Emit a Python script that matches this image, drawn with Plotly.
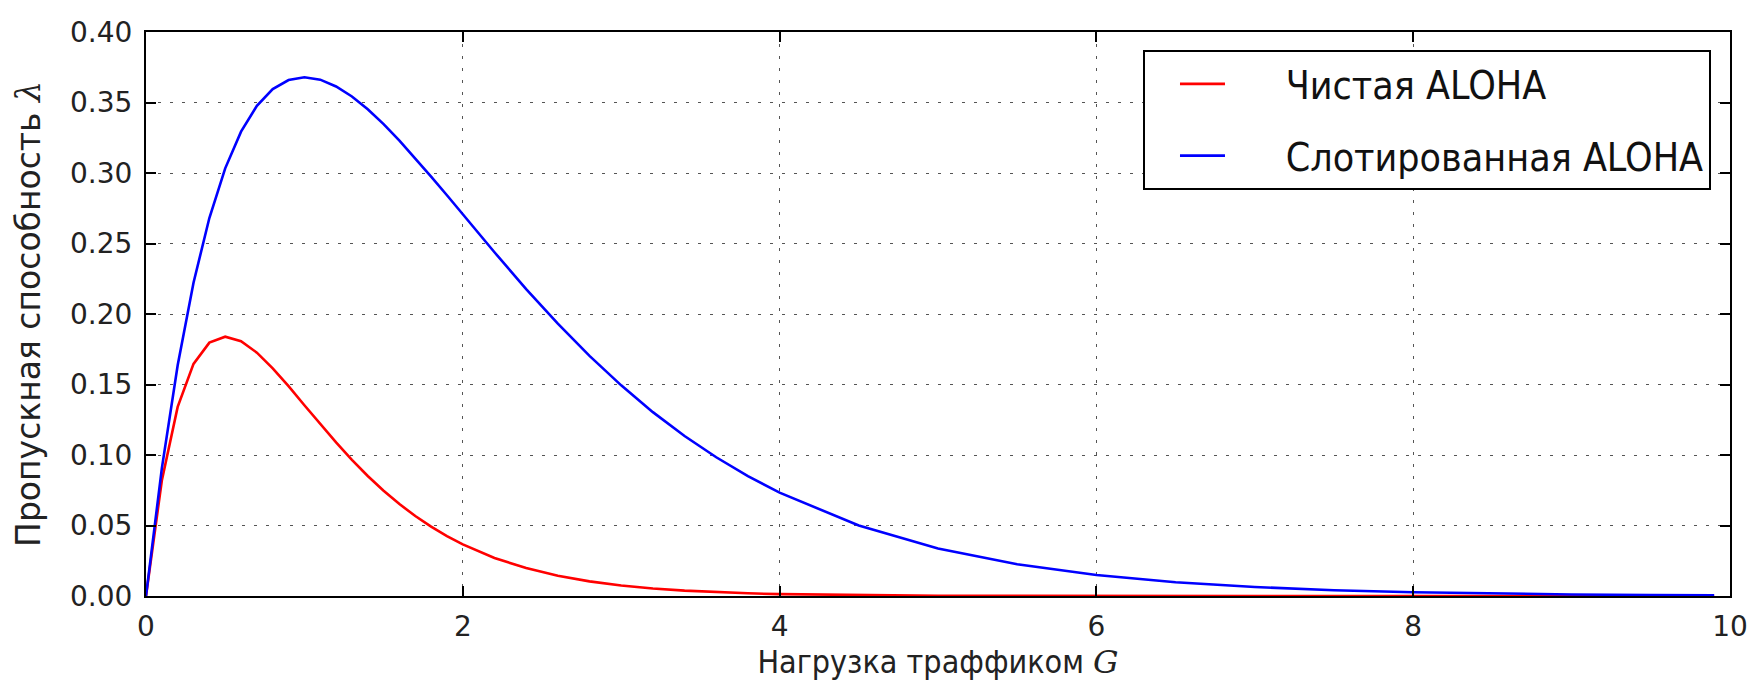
import plotly.graph_objects as go

# Traffic load G
G = [0.0, 0.1, 0.2, 0.3, 0.4, 0.5, 0.6, 0.7, 0.8, 0.9, 1.0, 1.1, 1.2, 1.3, 1.4,
     1.5, 1.6, 1.7, 1.8, 1.9, 2.0, 2.2, 2.4, 2.6, 2.8, 3.0, 3.2, 3.4, 3.6, 3.8,
     4.0, 4.5, 5.0, 5.5, 6.0, 6.5, 7.0, 7.5, 8.0, 8.5, 9.0, 9.5, 9.9]

# Pure ALOHA throughput
pure = [0.0, 0.0819, 0.1341, 0.1646, 0.1797, 0.1839, 0.1807, 0.1726, 0.1615,
        0.1488, 0.1353, 0.1219, 0.1089, 0.0966, 0.0851, 0.0747, 0.0652, 0.0567,
        0.0492, 0.0425, 0.0366, 0.0270, 0.0198, 0.0143, 0.0104, 0.0074, 0.0053,
        0.0038, 0.0027, 0.0019, 0.0013, 0.0006, 0.0002, 0.0001, 0.0, 0.0, 0.0,
        0.0, 0.0, 0.0, 0.0, 0.0, 0.0]

# Slotted ALOHA throughput
slotted = [0.0, 0.0905, 0.1637, 0.2222, 0.2681, 0.3033, 0.3293, 0.3476, 0.3595,
           0.3659, 0.3679, 0.3662, 0.3614, 0.3543, 0.3452, 0.3347, 0.3230, 0.3106,
           0.2975, 0.2842, 0.2707, 0.2438, 0.2177, 0.1931, 0.1703, 0.1494, 0.1304,
           0.1135, 0.0984, 0.0850, 0.0733, 0.0500, 0.0337, 0.0225, 0.0149, 0.0098,
           0.0064, 0.0041, 0.0027, 0.0017, 0.0011, 0.0007, 0.0005]

names = ["Чистая ALOHA", "Слотированная ALOHA"]

x_ticks = [0, 2, 4, 6, 8, 10]
y_ticks = [0.00, 0.05, 0.10, 0.15, 0.20, 0.25, 0.30, 0.35, 0.40]
y_tick_text = ["0.00", "0.05", "0.10", "0.15", "0.20", "0.25", "0.30", "0.35", "0.40"]

NARROW = "DejaVu Sans Condensed, Liberation Sans Narrow, DejaVu Sans, sans-serif"
PAD = "\u00a0" * 5

fig = go.Figure()
fig.add_trace(go.Scatter(x=G, y=pure, mode="lines", name=PAD + names[0], legendgroup="a",
                         line=dict(color="#ff0000", width=2.6)))
fig.add_trace(go.Scatter(x=G, y=slotted, mode="lines", name=PAD + names[1], legendgroup="b",
                         line=dict(color="#0000ff", width=2.6)))

axis_common = dict(
    showline=True, linecolor="black", linewidth=2, mirror="ticks",
    ticks="inside", ticklen=10, tickwidth=1.5, tickcolor="black",
    showgrid=True, gridcolor="#555555", gridwidth=1, griddash="3px,9px",
    zeroline=False, automargin=False,
    tickfont=dict(family="DejaVu Sans, sans-serif", size=28, color="#222222"),
)

fig.update_layout(
    width=1748, height=685,
    margin=dict(l=146, r=18, t=32, b=89),
    paper_bgcolor="white", plot_bgcolor="white",
    showlegend=True,
    legend=dict(
        x=0.988, y=0.968, xanchor="right", yanchor="top",
        bordercolor="black", borderwidth=2, bgcolor="white",
        font=dict(family=NARROW, size=39, color="#111111"),
        tracegroupgap=18, itemwidth=45, indentation=30,
    ),
)
fig.update_xaxes(
    range=[0, 10], tickvals=x_ticks, ticktext=[str(v) for v in x_ticks],
    title=dict(text="Нагрузка траффиком <i style='font-family:DejaVu Serif'>G</i>",
               font=dict(family=NARROW, size=32, color="#222222"), standoff=8),
    ticklabelstandoff=4,
    **axis_common,
)
fig.update_yaxes(
    range=[0, 0.4], tickvals=y_ticks, ticktext=y_tick_text,
    title=dict(text="Пропускная способность <i style='font-family:DejaVu Serif'>λ</i>",
               font=dict(family="DejaVu Sans, sans-serif", size=33, color="#222222"),
               standoff=20),
    ticklabelstandoff=6,
    **axis_common,
)

fig.write_html("out.html", config={"displayModeBar": False},
               post_script="document.body.style.margin='0';")
